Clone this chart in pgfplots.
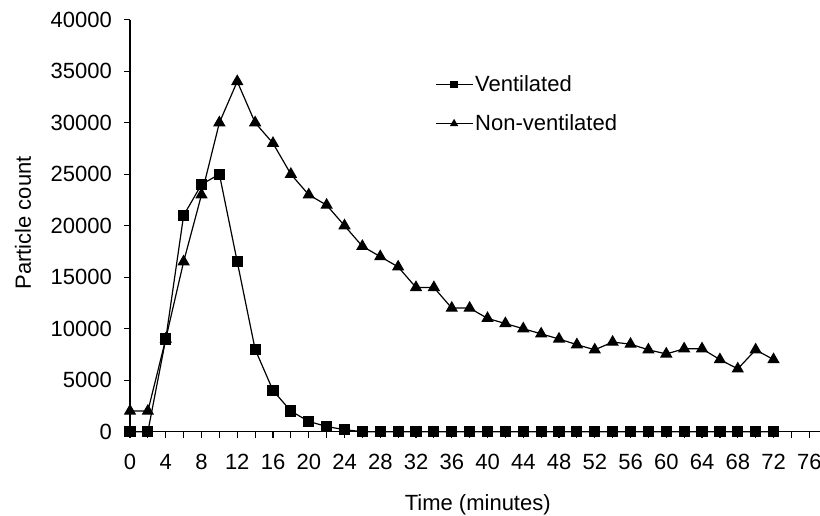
\documentclass[border=0pt]{standalone}
\usepackage{fontspec}
\setmainfont{Liberation Sans}
\usepackage{pgfplots}
\pgfplotsset{compat=1.18}
\usepackage{pgfplotstable}

\pgfplotstableread{
t vent nonvent
0 0 2000
2 0 2000
4 9000 9000
6 21000 16500
8 24000 23000
10 25000 30000
12 16500 34000
14 8000 30000
16 4000 28000
18 2000 25000
20 1000 23000
22 500 22000
24 200 20000
26 0 18000
28 0 17000
30 0 16000
32 0 14000
34 0 14000
36 0 12000
38 0 12000
40 0 11000
42 0 10500
44 0 10000
46 0 9500
48 0 9000
50 0 8450
52 0 7950
54 0 8700
56 0 8500
58 0 7950
60 0 7550
62 0 8050
64 0 8050
66 0 7000
68 0 6100
70 0 7950
72 0 7000
}\datatable

\begin{document}
\begin{tikzpicture}
\begin{axis}[
    scale only axis,
    width=690pt, height=412pt,
    xmin=0, xmax=77.2,
    ymin=0, ymax=40000,
    axis lines*=left,
    axis line style={-, line width=1.2pt},
    clip=false,
    font=\fontsize{22}{26}\selectfont,
    scaled ticks=false,
    /pgf/number format/assume math mode=true,
    /pgf/number format/1000 sep={},
    /pgf/number format/fixed,
    xtick={0,4,...,76},
    minor xtick={2,6,...,74},
    ytick={0,5000,...,40000},
    tick align=outside,
    tick pos=left,
    major tick length=6pt,
    minor tick length=6pt,
    tick style={line width=1.2pt, black},
    xticklabel style={anchor=base, inner sep=0pt, yshift=-32pt},
    yticklabel style={anchor=east, inner sep=0pt, xshift=-12pt},
    xlabel={Time (minutes)},
    ylabel={Particle count},
    xlabel style={at={(axis description cs:0.504,-0.1923)}, anchor=base},
    ylabel style={at={(axis description cs:-0.155,0.507)}, anchor=center},
    legend style={draw=none, fill=none, at={(axis cs:34.1,34800)}, anchor=north west,
        inner sep=0pt, row sep=18pt, nodes={inner sep=2pt}},
    legend cell align=left,
    legend image code/.code={
        \draw[mark repeat=2,mark phase=2,#1,mark options={scale=0.6}]
            plot coordinates {(0pt,0pt) (18.5pt,0pt) (37pt,0pt)};
    },
]
\addplot[black, line width=1.2pt, mark=square*, mark size=5pt] table[x=t, y=vent] {\datatable};
\addlegendentry{Ventilated}
\addplot[black, line width=1.2pt, mark=triangle*, mark size=6pt] table[x=t, y=nonvent] {\datatable};
\addlegendentry{Non-ventilated}
\end{axis}
\pgfresetboundingbox
\path[use as bounding box] (-130pt,-84.3pt) rectangle (690pt,431.7pt);
\end{tikzpicture}
\end{document}
